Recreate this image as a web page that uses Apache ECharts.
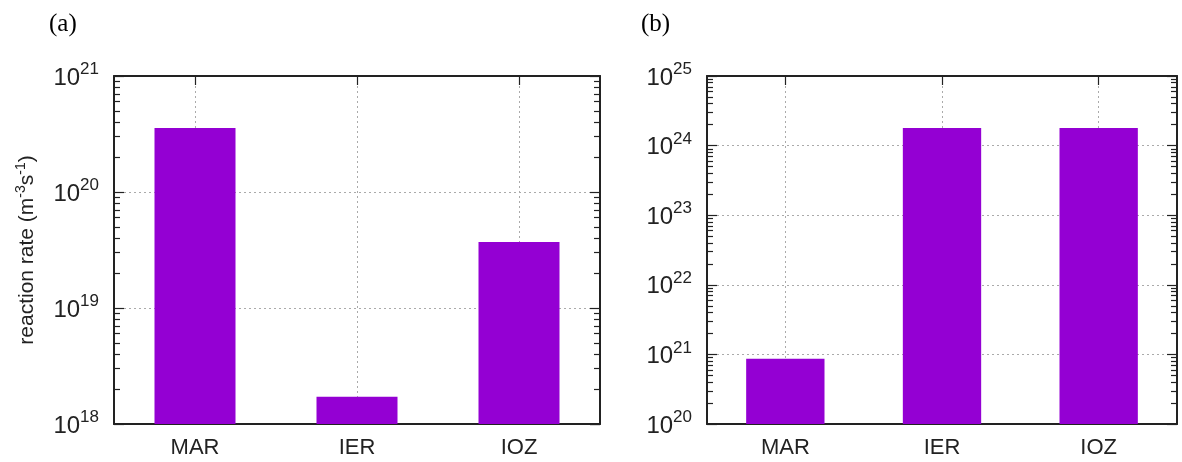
<!DOCTYPE html>
<html>
<head>
<meta charset="utf-8">
<script src="https://cdn.jsdelivr.net/npm/echarts@6/dist/echarts.min.js"></script>
<style>
  html, body { margin: 0; padding: 0; background: #fff; }
  #chart { width: 1182px; height: 462px; }
</style>
</head>
<body>
<div id="chart"></div>
<script>
const chart = echarts.init(document.getElementById("chart"), null, { renderer: "canvas" });

// data
const categories = ["MAR", "IER", "IOZ"];
const rateA = [3.56e20, 1.72e18, 3.7e19];
const rateB = [8.67e20, 1.79e24, 1.79e24];
const rangeA = [1e18, 1e21];
const rangeB = [1e20, 1e25];
const panelNames = ["(a)", "(b)"];
const yName = "{n|reaction rate (m}{s|-3}{n|s}{s|-1}{n|)}";

const font = "Liberation Sans";
const ink = "#222";
const gridColor = "#aaaaaa";
const barColor = "#9400d3";

// log minor ticks 2..9 in every decade
function minorTicks(range) {
  const out = [];
  for (let p = Math.log10(range[0]); p < Math.log10(range[1]); p++) {
    for (let m = 2; m <= 9; m++) out.push(m * Math.pow(10, p));
  }
  return out;
}

function powLabel(v) {
  const e = Math.round(Math.log10(v));
  return "{b|10}{s|" + e + "}";
}

const grids = [
  { left: 114, top: 76, width: 486, height: 348 },
  { left: 707, top: 76, width: 470, height: 348 },
];

const xAxes = [];
const yAxes = [];
const series = [];

function addPanel(gi, values, range, withName) {
  const xBottom = xAxes.length;
  xAxes.push({
    type: "category",
    gridIndex: gi,
    data: categories,
    position: "bottom",
    axisLine: { onZero: false, lineStyle: { color: ink, width: 2 } },
    axisTick: { show: true, inside: true, alignWithLabel: true, length: 9, lineStyle: { color: ink, width: 1.2 } },
    axisLabel: { fontFamily: font, fontSize: 22, color: ink, margin: 13 },
    splitLine: { show: true, alignWithLabel: true, lineStyle: { color: gridColor, type: [2, 3] } },
  });
  xAxes.push({
    type: "category",
    gridIndex: gi,
    data: categories,
    position: "top",
    axisLine: { onZero: false, lineStyle: { color: ink, width: 2 } },
    axisTick: { show: true, inside: true, alignWithLabel: true, length: 9, lineStyle: { color: ink, width: 1.2 } },
    axisLabel: { show: false },
    splitLine: { show: false },
  });

  const yLeft = yAxes.length;
  ["left", "right"].forEach((pos) => {
    yAxes.push({
      type: "log",
      logBase: 10,
      gridIndex: gi,
      min: range[0],
      max: range[1],
      position: pos,
      name: pos === "left" && withName ? yName : "",
      nameLocation: "middle",
      nameGap: 74,
      nameTextStyle: {
        rich: {
          n: { fontFamily: font, fontSize: 21, color: ink },
          s: { fontFamily: font, fontSize: 14, color: ink, padding: [0, 0, 12, 0] },
        },
      },
      axisLine: { show: true, onZero: false, lineStyle: { color: ink, width: 2 } },
      axisTick: { show: true, inside: true, length: 10, lineStyle: { color: ink, width: 1.2 } },
      axisLabel: {
        show: pos === "left",
        margin: 15,
        formatter: powLabel,
        rich: {
          b: { fontFamily: font, fontSize: 24, color: ink, padding: [4, 0, 0, 0] },
          s: { fontFamily: font, fontSize: 17, color: ink, padding: [0, 0, 13, 0] },
        },
      },
      splitLine: { show: pos === "left", lineStyle: { color: gridColor, type: [2, 3] } },
    });
    yAxes.push({
      type: "log",
      logBase: 10,
      gridIndex: gi,
      min: range[0],
      max: range[1],
      position: pos,
      axisLine: { show: false },
      axisTick: { show: true, inside: true, length: 6, customValues: minorTicks(range), lineStyle: { color: ink, width: 1.2 } },
      axisLabel: { show: false },
      splitLine: { show: false },
    });
  });

  series.push({
    type: "bar",
    xAxisIndex: xBottom,
    yAxisIndex: yLeft,
    data: values,
    barWidth: "50%",
    itemStyle: { color: barColor },
    clip: true,
    silent: true,
  });
}

addPanel(0, rateA, rangeA, true);
addPanel(1, rateB, rangeB, false);

const titleStyle = { fontFamily: "Liberation Serif", fontSize: 25, fontWeight: "normal", color: "#000" };

chart.setOption({
  animation: false,
  backgroundColor: "#fff",
  title: [
    { text: panelNames[0], left: 44, top: 7, textStyle: titleStyle },
    { text: panelNames[1], left: 636, top: 7, textStyle: titleStyle },
  ],
  grid: grids,
  xAxis: xAxes,
  yAxis: yAxes,
  series: series,
});

window.addEventListener("resize", function () {
  chart.resize();
});
</script>
</body>
</html>
